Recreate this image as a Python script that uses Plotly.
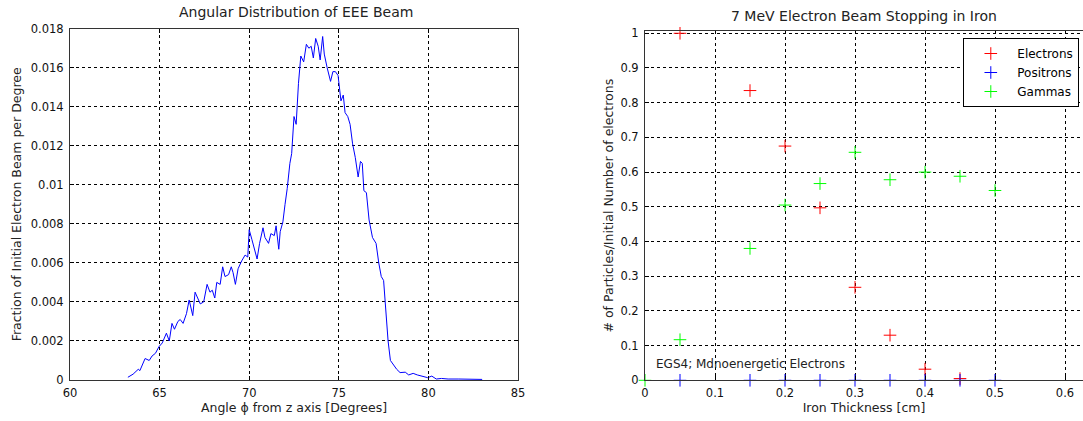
import plotly.graph_objects as go

angle_deg = [63.23, 63.52, 63.81, 63.9, 64.19, 64.42, 64.58, 64.77, 64.96, 65.15, 65.38, 65.54,
             65.69, 65.83, 66.02, 66.15, 66.31, 66.5, 66.65, 66.85, 66.98, 67.12, 67.27, 67.46,
             67.65, 67.81, 67.94, 68.08, 68.19, 68.38, 68.52, 68.65, 68.85, 69.0, 69.1, 69.23,
             69.38, 69.58, 69.77, 69.92, 70.0, 70.15, 70.31, 70.44, 70.58, 70.77, 70.88, 71.08,
             71.21, 71.4, 71.5, 71.65, 71.73, 71.88, 72.0, 72.12, 72.27, 72.37, 72.5, 72.62,
             72.75, 72.88, 73.04, 73.19, 73.33, 73.46, 73.58, 73.71, 73.85, 73.96, 74.1, 74.19,
             74.35, 74.54, 74.67, 74.81, 74.96, 75.12, 75.25, 75.35, 75.5, 75.63, 75.77, 75.92,
             76.08, 76.21, 76.31, 76.4, 76.54, 76.69, 76.88, 77.08, 77.23, 77.37, 77.5, 77.62,
             77.75, 77.88, 78.04, 78.23, 78.42, 78.71, 78.9, 79.15, 79.38, 79.67, 79.96, 80.19,
             80.44, 80.73, 81.1, 81.7, 82.3, 83.0]
fraction = [0.00014, 0.0003, 0.00055, 0.00048, 0.0011, 0.001, 0.00123, 0.00137, 0.0017, 0.0019,
            0.0024, 0.002, 0.0029, 0.0026, 0.003, 0.0031, 0.0029, 0.0034, 0.0041, 0.0033, 0.0045,
            0.0042, 0.0039, 0.004, 0.0049, 0.0045, 0.0046, 0.0042, 0.005, 0.0049, 0.0058, 0.0053,
            0.0054, 0.0058, 0.0055, 0.0049, 0.0057, 0.0061, 0.0064, 0.0063, 0.0077, 0.0072, 0.0067,
            0.0062, 0.007, 0.0078, 0.0073, 0.007, 0.0075, 0.0074, 0.0079, 0.0067, 0.0076, 0.0081,
            0.009, 0.0098, 0.0111, 0.0116, 0.0135, 0.0131, 0.0152, 0.0166, 0.0163, 0.0172, 0.017,
            0.0171, 0.0165, 0.0175, 0.0171, 0.0164, 0.0176, 0.0167, 0.016, 0.0153, 0.0158, 0.0158,
            0.0156, 0.0143, 0.0146, 0.0137, 0.0135, 0.0131, 0.0121, 0.0114, 0.0104, 0.0112, 0.0111,
            0.0097, 0.0096, 0.0082, 0.0073, 0.007, 0.006, 0.0053, 0.0051, 0.0034, 0.002, 0.001,
            0.00077, 0.00055, 0.00038, 0.0004, 0.00026, 0.00034, 0.00026, 0.00017, 0.00012, 0.0002,
            0.00005, 0.00008, 0.00005, 0.00005, 0.00003, 0.00003]

# Right chart: particles vs iron thickness
e_thick = [0.05, 0.15, 0.2, 0.25, 0.3, 0.35, 0.4, 0.45]
electrons = [1.0, 0.835, 0.675, 0.497, 0.268, 0.13, 0.032, 0.005]
p_thick = [0.05, 0.15, 0.2, 0.25, 0.3, 0.35, 0.4, 0.45, 0.5]
positrons = [0, 0, 0, 0, 0, 0, 0, 0, 0]
g_thick = [0.0, 0.05, 0.15, 0.2, 0.25, 0.3, 0.35, 0.4, 0.45, 0.5]
gammas = [0.0, 0.117, 0.38, 0.505, 0.567, 0.657, 0.578, 0.60, 0.588, 0.547]

left_xticks = [60, 65, 70, 75, 80, 85]
left_yticks = [0, 0.002, 0.004, 0.006, 0.008, 0.01, 0.012, 0.014, 0.016, 0.018]
left_ytext = ["0", "0.002", "0.004", "0.006", "0.008", "0.01", "0.012", "0.014", "0.016", "0.018"]
right_xticks = [0, 0.1, 0.2, 0.3, 0.4, 0.5, 0.6]
right_yticks = [0, 0.1, 0.2, 0.3, 0.4, 0.5, 0.6, 0.7, 0.8, 0.9, 1]
right_ytext = ["0", "0.1", "0.2", "0.3", "0.4", "0.5", "0.6", "0.7", "0.8", "0.9", "1"]

FONT = "DejaVu Sans, Liberation Sans, sans-serif"
W, H = 1083, 421


def px(x):
    return x / W


def py(y):
    return 1 - y / H


fig = go.Figure()
fig.add_trace(go.Scatter(x=angle_deg, y=fraction, mode="lines",
                         line=dict(color="#0000ff", width=1), showlegend=False,
                         xaxis="x", yaxis="y"))


def marker(c):
    return dict(symbol="cross-thin", size=9, color=c, line=dict(color=c, width=1))


fig.add_trace(go.Scatter(x=e_thick, y=electrons, mode="markers", name="Electrons",
                         marker=marker("#ff0000"), xaxis="x2", yaxis="y2", cliponaxis=False))
fig.add_trace(go.Scatter(x=p_thick, y=positrons, mode="markers", name="Positrons",
                         marker=marker("#0000ff"), xaxis="x2", yaxis="y2", cliponaxis=False))
fig.add_trace(go.Scatter(x=g_thick, y=gammas, mode="markers", name="Gammas",
                         marker=marker("#00ff00"), xaxis="x2", yaxis="y2", cliponaxis=False))

axis_common = dict(showline=True, linecolor="#333333", linewidth=1, ticks="inside", ticklen=4,
                   tickcolor="black", showgrid=True, gridcolor="black", gridwidth=1,
                   griddash="3px,3px", zeroline=False, automargin=False,
                   tickfont=dict(family=FONT, size=11.5, color="#111111"),
                   title_font=dict(family=FONT, size=12.5, color="#222222"))

fig.update_layout(
    width=W, height=H, margin=dict(l=0, r=0, t=0, b=0, autoexpand=False),
    paper_bgcolor="white", plot_bgcolor="white",
    font=dict(family=FONT, size=12, color="black"),
    xaxis=dict(axis_common, domain=[px(70), px(518)], range=[60, 85], tickvals=left_xticks,
               mirror="ticks", anchor="y", ticklabelstandoff=2,
               title=dict(text="Angle ϕ from z axis [Degrees]", standoff=0)),
    yaxis=dict(axis_common, domain=[py(380), py(28.7)], range=[0, 0.018], tickvals=left_yticks,
               ticktext=left_ytext, mirror="ticks", anchor="x", ticklabelstandoff=3,
               title=dict(text="Fraction of Initial Electron Beam per Degree", standoff=6)),
    xaxis2=dict(axis_common, domain=[px(645), 1.0], range=[0, 0.6257], tickvals=right_xticks,
                mirror=True, anchor="y2", ticklabelstandoff=2,
                title=dict(text="Iron Thickness [cm]", standoff=2)),
    yaxis2=dict(axis_common, domain=[py(380.3), py(31)], range=[0, 1.0066], tickvals=right_yticks,
                ticktext=right_ytext, mirror=False, anchor="x2", ticklabelstandoff=3,
                title=dict(text="# of Particles/Initial Number of electrons", standoff=4)),
    legend=dict(x=px(963.3), y=py(38), xanchor="left", yanchor="top",
                bordercolor="black", borderwidth=1, bgcolor="white",
                font=dict(family=FONT, size=12, color="black"),
                itemwidth=43, tracegroupgap=0),
    annotations=[
        dict(text="Angular Distribution of EEE Beam", x=px(296), y=py(12.3),
             xref="paper", yref="paper", showarrow=False, xanchor="center", yanchor="middle",
             font=dict(family=FONT, size=14, color="#222222")),
        dict(text="7 MeV Electron Beam Stopping in Iron", x=px(863.7), y=py(15.7),
             xref="paper", yref="paper", showarrow=False, xanchor="center", yanchor="middle",
             font=dict(family=FONT, size=14, color="#222222")),
        dict(text="EGS4; Mdnoenergetic Electrons", x=px(654), y=py(364),
             xref="paper", yref="paper", showarrow=False, xanchor="left", yanchor="middle",
             font=dict(family=FONT, size=12, color="#222222")),
    ],
)

fig.write_html("out.html", config={"displayModeBar": False},
               post_script="document.body.style.margin='0px';")
